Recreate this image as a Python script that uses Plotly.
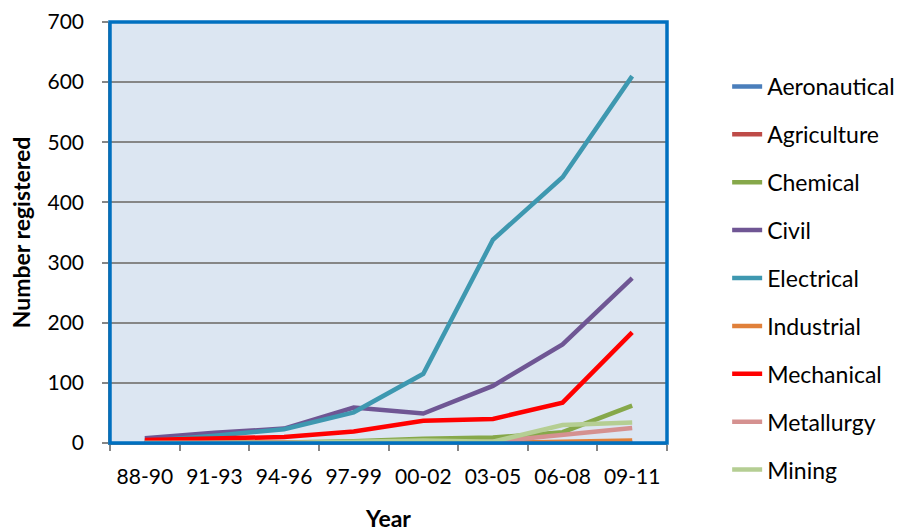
import plotly.graph_objects as go

years = ["88-90", "91-93", "94-96", "97-99", "00-02", "03-05", "06-08", "09-11"]

aeronautical = [0, 0, 0, 0, 0, 0, 0, 1]
agriculture = [0, 0, 0, 0, 0, 0, 0, 0]
chemical = [0, 0, 1, 3, 7, 9, 18, 62]
civil = [8, 17, 24, 59, 49, 95, 164, 274]
electrical = [3, 12, 23, 51, 115, 338, 442, 610]
industrial = [0, 0, 0, 0, 0, 0, 2, 4]
mechanical = [5, 8, 10, 19, 37, 40, 67, 184]
metallurgy = [0, 0, 0, 0, 1, 2, 14, 25]
mining = [0, 0, 0, 2, 4, 2, 30, 34]

series = [
    ("Aeronautical", aeronautical, "#4A7EBB"),
    ("Agriculture", agriculture, "#BE4B48"),
    ("Chemical", chemical, "#86A84A"),
    ("Civil", civil, "#6F5694"),
    ("Electrical", electrical, "#3E98B0"),
    ("Industrial", industrial, "#E0803A"),
    ("Mechanical", mechanical, "#FF0000"),
    ("Metallurgy", metallurgy, "#D59190"),
    ("Mining", mining, "#B5CE93"),
]

FONT = "Lato"
TICK_SIZE = 21
LEGEND_SIZE = 23
TITLE_SIZE = 23

fig = go.Figure()
for i, (name, vals, color) in enumerate(series):
    fig.add_trace(go.Scatter(
        x=years, y=vals, name=name, mode="lines",
        line=dict(color=color, width=4.5),
        legendgroup=f"g{i}",
    ))

fig.update_layout(
    width=906, height=532,
    margin=dict(l=110, r=239, t=22, b=89, autoexpand=False),
    paper_bgcolor="white",
    plot_bgcolor="#DCE6F2",
    font=dict(family=FONT, size=TICK_SIZE, color="black"),
    showlegend=True,
    legend=dict(
        x=1.108, xanchor="left", y=0.898, yanchor="top",
        font=dict(family=FONT, size=LEGEND_SIZE, color="black"),
        tracegroupgap=15,
        bgcolor="rgba(0,0,0,0)",
        maxheight=520,
    ),
    xaxis=dict(
        type="category",
        tickson="boundaries",
        ticks="outside", ticklen=6, tickcolor="#868686", tickwidth=1.5,
        showgrid=False,
        showline=True, linecolor="#868686", linewidth=1.5,
        tickfont=dict(family=FONT, size=TICK_SIZE),
        ticklabelstandoff=14,
        automargin=False,
        title=dict(text="<b>Year</b>", font=dict(family=FONT, size=TITLE_SIZE), standoff=24),
        range=[-0.5, 7.5],
    ),
    yaxis=dict(
        range=[0, 700], dtick=100,
        ticks="outside", ticklen=6, tickcolor="#868686", tickwidth=1.5,
        showgrid=True, gridcolor="#868686", gridwidth=2,
        zeroline=False,
        showline=True, linecolor="#868686", linewidth=1.5,
        tickfont=dict(family=FONT, size=TICK_SIZE),
        ticklabelstandoff=14,
        automargin=False,
        title=dict(text="<b>Number registered</b>", font=dict(family=FONT, size=TITLE_SIZE), standoff=10),
    ),
)

# Blue frame around the plotting area
fig.add_shape(
    type="rect", xref="paper", yref="paper", x0=0, y0=0, x1=1, y1=1,
    line=dict(color="#0070C0", width=3.5), fillcolor="rgba(0,0,0,0)", layer="above",
)

fig.write_html("out.html")
